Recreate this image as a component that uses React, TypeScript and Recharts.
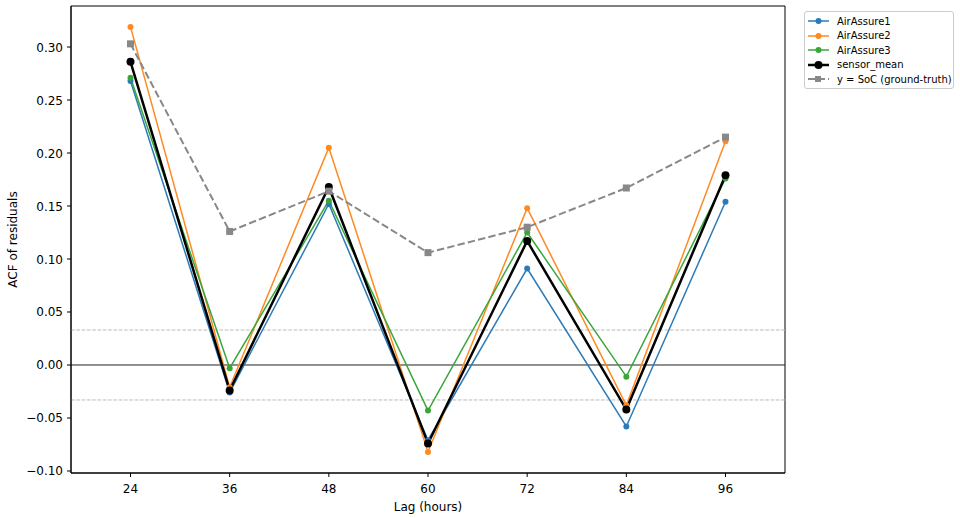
import React from "react";
import { LineChart, Line, XAxis, YAxis, ReferenceLine, ReferenceArea, Label } from "recharts";

const lags = [24, 36, 48, 60, 72, 84, 96];
const airAssure1 = [0.268, -0.026, 0.152, -0.071, 0.091, -0.058, 0.154];
const airAssure2 = [0.319, -0.021, 0.205, -0.082, 0.148, -0.038, 0.211];
const airAssure3 = [0.271, -0.003, 0.155, -0.043, 0.125, -0.011, 0.176];
const sensorMean = [0.286, -0.024, 0.168, -0.074, 0.117, -0.042, 0.179];
const socTruth = [0.303, 0.126, 0.164, 0.106, 0.130, 0.167, 0.215];
const yTicks = [-0.1, -0.05, 0, 0.05, 0.1, 0.15, 0.2, 0.25, 0.3];
const confBand = 0.033;

const data = lags.map((lag, i) => ({
  lag,
  a1: airAssure1[i],
  a2: airAssure2[i],
  a3: airAssure3[i],
  mean: sensorMean[i],
  soc: socTruth[i],
}));

const FONT = "DejaVu Sans, sans-serif";

const series = [
  { key: "a1", name: "AirAssure1", color: "#2b7bba", width: 1.5, r: 3, dash: undefined as string | undefined, square: false },
  { key: "a2", name: "AirAssure2", color: "#ff8a22", width: 1.5, r: 3, dash: undefined, square: false },
  { key: "a3", name: "AirAssure3", color: "#3aa63a", width: 1.5, r: 3, dash: undefined, square: false },
  { key: "mean", name: "sensor_mean", color: "#000000", width: 2.5, r: 4, dash: undefined, square: false },
  { key: "soc", name: "y = SoC (ground-truth)", color: "#888888", width: 2, r: 3.5, dash: "7.4 3.2", square: true },
];

const SquareDot = (props: any) => {
  const { cx, cy, fill } = props;
  if (cx == null || cy == null) return null;
  return <rect x={cx - 3.5} y={cy - 3.5} width={7} height={7} fill={fill} />;
};

const fmt = (v: number) => {
  const s = Math.abs(v).toFixed(2);
  return v < -1e-9 ? "\u2212" + s : s;
};

const XTick = (props: any) => {
  const { x, y, payload } = props;
  return (
    <text x={x} y={y + 14} textAnchor="middle" fontFamily={FONT} fontSize={12} fill="#000">
      {payload.value}
    </text>
  );
};

const YTick = (props: any) => {
  const { x, y, payload } = props;
  return (
    <text x={x - 2} y={y + 4.5} textAnchor="end" fontFamily={FONT} fontSize={12} fill="#000">
      {fmt(payload.value)}
    </text>
  );
};

const YLabel = (props: any) => {
  const vb = props.viewBox || {};
  const cy = (vb.y ?? 6) + (vb.height ?? 467) / 2;
  return (
    <text
      x={13}
      y={cy}
      transform={`rotate(-90, 13, ${cy})`}
      textAnchor="middle"
      dominantBaseline="central"
      fontFamily={FONT}
      fontSize={12}
      fill="#000"
    >
      ACF of residuals
    </text>
  );
};

const LegendBox = () => (
  <div
    style={{
      position: "absolute",
      left: 804,
      top: 11,
      width: 150,
      height: 78,
      border: "1px solid #cccccc",
      borderRadius: 3,
      background: "#fff",
      boxSizing: "border-box",
      fontFamily: FONT,
      fontSize: 10,
    }}
  >
    {series.map((s, i) => (
      <div
        key={s.key}
        style={{
          position: "absolute",
          left: 2,
          top: 2 + i * 14.6,
          height: 14,
          display: "flex",
          alignItems: "center",
          whiteSpace: "nowrap",
        }}
      >
        <svg width={22} height={12} style={{ marginRight: 8, flexShrink: 0 }}>
          <line x1={1} y1={6} x2={22} y2={6} stroke={s.color} strokeWidth={s.width} strokeDasharray={s.dash ? "7 3" : undefined} />
          {s.square ? (
            <rect x={8} y={3} width={6} height={6} fill={s.color} />
          ) : (
            <circle cx={11.5} cy={6} r={s.r} fill={s.color} />
          )}
        </svg>
        <span style={{ color: "#000" }}>{s.name}</span>
      </div>
    ))}
  </div>
);

export default function App() {
  const yMin = -0.1019;
  const yMax = 0.3387;
  const xMin = 16.8;
  const xMax = 103.2;
  return (
    <div style={{ position: "absolute", left: 0, top: 0, width: 960, height: 518, background: "#fff" }}>
      <LineChart width={960} height={518} data={data} margin={{ top: 6, right: 175, bottom: 0, left: 1 }}>
        <XAxis
          dataKey="lag"
          type="number"
          domain={[xMin, xMax]}
          ticks={lags}
          allowDataOverflow
          height={45}
          stroke="#000"
          tickSize={4}
          tick={<XTick />}
          axisLine={{ stroke: "#000", strokeWidth: 1 }}
          tickLine={{ stroke: "#000" }}
        >
          <Label value="Lag (hours)" position="insideBottom" offset={7} style={{ fontFamily: FONT, fontSize: 12, fill: "#000" }} />
        </XAxis>
        <YAxis
          type="number"
          domain={[yMin, yMax]}
          ticks={yTicks}
          allowDataOverflow
          width={70}
          tickSize={4}
          tick={<YTick />}
          axisLine={{ stroke: "#000", strokeWidth: 1 }}
          tickLine={{ stroke: "#000" }}
        >
          <Label content={<YLabel />} />
        </YAxis>
        <ReferenceArea x1={xMin} x2={xMax} y1={yMin} y2={yMax} fill="none" stroke="#000" strokeWidth={1} ifOverflow="extendDomain" />
        <ReferenceLine y={0} stroke="#222" strokeWidth={1} />
        <ReferenceLine y={confBand} stroke="#bbbbbb" strokeWidth={1} strokeDasharray="3.7 1.6" />
        <ReferenceLine y={-confBand} stroke="#bbbbbb" strokeWidth={1} strokeDasharray="3.7 1.6" />
        {series.map((s) => (
          <Line
            key={s.key}
            dataKey={s.key}
            name={s.name}
            type="linear"
            stroke={s.color}
            strokeWidth={s.width}
            strokeDasharray={s.dash}
            dot={s.square ? <SquareDot fill={s.color} /> : { r: s.r, fill: s.color, stroke: "none" }}
            activeDot={false}
            isAnimationActive={false}
          />
        ))}
      </LineChart>
      <LegendBox />
    </div>
  );
}
